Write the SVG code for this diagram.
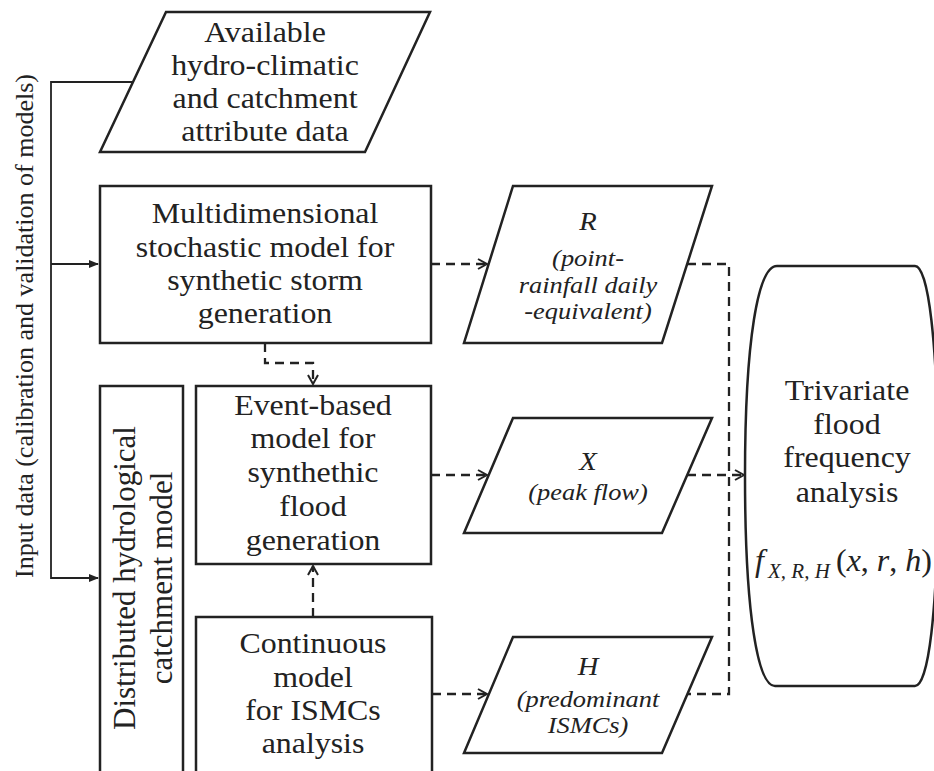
<svg xmlns="http://www.w3.org/2000/svg" width="934" height="771" viewBox="0 0 934 771" font-family="'Liberation Serif', 'Times New Roman', Times, serif">
<style>
text{font-family:'Liberation Serif','Times New Roman',Times,serif;fill:#222;}
.t{font-size:29px;text-anchor:middle;}
.it{font-style:italic;}
.shape{fill:#fff;stroke:#222;stroke-width:2.5;}
.solid{fill:none;stroke:#222;stroke-width:1.8;}
.dash{fill:none;stroke:#222;stroke-width:2.3;stroke-dasharray:9 6;}
</style>
<defs>
<marker id="ah" markerWidth="10" markerHeight="8" refX="9" refY="4" orient="auto" markerUnits="userSpaceOnUse"><path d="M0,0 L10,4 L0,8 Z" fill="#222"/></marker>
<marker id="oa" markerWidth="12" markerHeight="12" refX="10" refY="6" orient="auto" markerUnits="userSpaceOnUse"><path d="M1,1 L10,6 L1,11" fill="none" stroke="#222" stroke-width="2"/></marker>
</defs>
<rect width="934" height="771" fill="#fff"/>

<g id="connectors">
<polyline class="solid" points="133,82 51,82 51,578 98,578" marker-end="url(#ah)"/>
<line class="solid" x1="51" y1="264" x2="98" y2="264" marker-end="url(#ah)"/>
<line class="dash" x1="431" y1="264" x2="487" y2="264" marker-end="url(#oa)"/>
<polyline class="dash" points="265,343 265,363 313,363 313,384" marker-end="url(#oa)"/>
<line class="dash" x1="313" y1="617" x2="313" y2="566" marker-end="url(#oa)"/>
<line class="dash" x1="431" y1="475" x2="487" y2="475" marker-end="url(#oa)"/>
<line class="dash" x1="432" y1="694" x2="487" y2="694" marker-end="url(#oa)"/>
<polyline class="dash" points="687,264 729,264 729,694 687,694"/>
<line class="dash" x1="687" y1="475" x2="744" y2="475" marker-end="url(#oa)"/>
</g>

<g id="input-label">
<text transform="translate(33,326) rotate(-90)" font-family="Liberation Serif" style="font-size:26px;text-anchor:middle">Input data (calibration and validation of models)</text>
</g>

<g id="available">
<polygon class="shape" points="166,12 430,12 365,152 100,152"/>
<g transform="translate(265,0) scale(1.1,1)">
<text class="t" x="0" y="42">Available</text>
<text class="t" x="0" y="75">hydro-climatic</text>
<text class="t" x="0" y="108">and catchment</text>
<text class="t" x="0" y="141">attribute data</text>
</g>
</g>

<g id="multi">
<rect class="shape" x="100" y="186" width="331" height="157"/>
<g transform="translate(265,0) scale(1.1,1)">
<text class="t" x="0" y="223">Multidimensional</text>
<text class="t" x="0" y="257">stochastic model for</text>
<text class="t" x="0" y="290">synthetic storm</text>
<text class="t" x="0" y="323">generation</text>
</g>
</g>

<g id="distributed">
<rect class="shape" x="100" y="386" width="83" height="420"/>
<text transform="translate(135,578) rotate(-90)" style="font-size:31px;text-anchor:middle">Distributed hydrological</text>
<text transform="translate(172,578) rotate(-90)" style="font-size:31px;text-anchor:middle">catchment model</text>
</g>

<g id="event">
<rect class="shape" x="196" y="386" width="235" height="178"/>
<g transform="translate(313,0) scale(1.1,1)">
<text class="t" x="0" y="415">Event-based</text>
<text class="t" x="0" y="448">model for</text>
<text class="t" x="0" y="482">synthethic</text>
<text class="t" x="0" y="516">flood</text>
<text class="t" x="0" y="550">generation</text>
</g>
</g>

<g id="continuous">
<rect class="shape" x="196" y="617" width="236" height="190"/>
<g transform="translate(313,0) scale(1.1,1)">
<text class="t" x="0" y="653">Continuous</text>
<text class="t" x="0" y="687">model</text>
<text class="t" x="0" y="720">for ISMCs</text>
<text class="t" x="0" y="753">analysis</text>
</g>
</g>

<g id="R">
<polygon class="shape" points="513,186 712,186 662,343 464,343"/>
<g transform="translate(588,0) scale(1.1,1)">
<text class="t it" x="0" y="230" style="font-size:26px">R</text>
<text class="t it" x="0" y="266" style="font-size:24px">(point-</text>
<text class="t it" x="0" y="293" style="font-size:24px">rainfall daily</text>
<text class="t it" x="0" y="319" style="font-size:24px">-equivalent)</text>
</g>
</g>

<g id="X">
<polygon class="shape" points="513,418 712,418 662,533 464,533"/>
<g transform="translate(588,0) scale(1.1,1)">
<text class="t it" x="0" y="470" style="font-size:26px">X</text>
<text class="t it" x="0" y="500" style="font-size:24px">(peak flow)</text>
</g>
</g>

<g id="H">
<polygon class="shape" points="513,637 712,637 662,753 464,753"/>
<g transform="translate(588,0) scale(1.1,1)">
<text class="t it" x="0" y="675" style="font-size:26px">H</text>
<text class="t it" x="0" y="707" style="font-size:24px">(predominant</text>
<text class="t it" x="0" y="733" style="font-size:24px">ISMCs)</text>
</g>
</g>

<g id="trivariate">
<path class="shape" d="M777,266 C758,266 745,340 745,476 C745,615 758,686 775,686 L915,686 C928,686 938,615 938,476 C938,340 928,266 915,266 Z"/>
<g transform="translate(847,0) scale(1.1,1)">
<text class="t" x="0" y="400">Trivariate</text>
<text class="t" x="0" y="434">flood</text>
<text class="t" x="0" y="467">frequency</text>
<text class="t" x="0" y="502">analysis</text>
</g>
<text x="755" y="571" class="it" style="font-size:32px">f</text>
<text x="768" y="578" class="it" style="font-size:21px">X, R, H</text>
<text x="836" y="571" style="font-size:32px">(<tspan class="it">x</tspan>, <tspan class="it">r</tspan>, <tspan class="it">h</tspan>)</text>
</g>
</svg>
